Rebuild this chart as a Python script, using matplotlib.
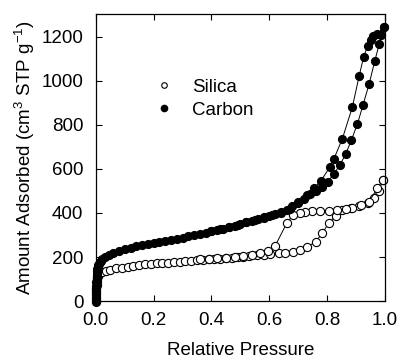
import numpy as np
import matplotlib
matplotlib.use("Agg")
import matplotlib.pyplot as plt

plt.rcParams['font.family'] = ['Liberation Sans', 'DejaVu Sans']
plt.rcParams['mathtext.fontset'] = 'custom'
plt.rcParams['mathtext.rm'] = 'Liberation Sans'

# Carbon isotherm, adsorption branch
carbon_ads_x = [0.001, 0.001, 0.001, 0.0012, 0.0015, 0.0018, 0.002, 0.0025, 0.003, 0.0035,
                0.004, 0.005, 0.006, 0.008, 0.01, 0.013, 0.017, 0.022, 0.03,
                0.045, 0.06, 0.08, 0.10, 0.12, 0.14, 0.16, 0.18, 0.20, 0.22,
                0.24, 0.26, 0.28, 0.30, 0.32, 0.34, 0.36, 0.38, 0.40, 0.42,
                0.44, 0.46, 0.48, 0.50, 0.52, 0.54, 0.56, 0.58, 0.60, 0.62,
                0.64, 0.66, 0.68, 0.70, 0.72, 0.74, 0.76, 0.783, 0.802, 0.823,
                0.844, 0.864, 0.884, 0.905, 0.924, 0.945, 0.965, 0.98, 0.986, 0.995]
carbon_ads_y = [-5, 10, 25, 40, 55, 70, 85, 100, 112, 124,
                135, 145, 153, 162, 170, 177, 184, 191, 199,
                210, 218, 228, 236, 243, 249, 254, 259, 264, 268,
                273, 278, 283, 288, 294, 299, 305, 311, 317, 323,
                329, 336, 343, 350, 357, 365, 372, 380, 388, 396,
                404, 414, 430, 446, 465, 485, 500, 520, 542, 577,
                618, 667, 732, 805, 891, 985, 1092, 1167, 1209, 1244]

# Carbon isotherm, desorption branch
carbon_des_x = [0.995, 0.974, 0.957, 0.95, 0.94, 0.926, 0.911, 0.887, 0.852, 0.823,
                0.81, 0.779, 0.754, 0.73, 0.70, 0.67, 0.64, 0.61, 0.58, 0.55,
                0.52, 0.49, 0.46, 0.43, 0.40]
carbon_des_y = [1244, 1214, 1205, 1185, 1159, 1108, 1024, 880, 735, 645,
                610, 547, 512, 480, 448, 420, 402, 390, 378, 368,
                357, 347, 337, 327, 318]

# Silica isotherm, adsorption branch
silica_ads_x = [0.001, 0.001, 0.0012, 0.0015, 0.002, 0.0025, 0.003, 0.004, 0.005, 0.007,
                0.01, 0.014, 0.02, 0.035,
                0.05, 0.07, 0.09, 0.11, 0.13, 0.15, 0.17, 0.19, 0.21, 0.23,
                0.25, 0.27, 0.29, 0.31, 0.33, 0.35, 0.37, 0.39, 0.41, 0.43,
                0.45, 0.47, 0.49, 0.51, 0.53, 0.556, 0.58, 0.603, 0.632, 0.655,
                0.682, 0.707, 0.731, 0.76, 0.783, 0.806, 0.829, 0.852, 0.882, 0.91,
                0.94, 0.963, 0.98, 0.992]
silica_ads_y = [0, 15, 30, 45, 60, 75, 88, 100, 108, 115,
                121, 126, 131, 137,
                142, 148, 152, 156, 160, 163, 166, 169, 171, 173,
                175, 177, 179, 181, 183, 185, 187, 189, 191, 193,
                195, 197, 199, 202, 205, 209, 210, 212, 216, 220,
                224, 232, 244, 270, 307, 356, 386, 414, 424, 433,
                444, 467, 501, 550]

# Silica isotherm, desorption branch
silica_des_x = [0.992, 0.974, 0.945, 0.916, 0.887, 0.864, 0.835, 0.806, 0.777, 0.748,
                0.725, 0.705, 0.682, 0.66, 0.62, 0.597, 0.568, 0.54, 0.51, 0.48,
                0.45, 0.42, 0.39, 0.36]
silica_des_y = [550, 512, 452, 436, 421, 417, 414, 411, 407, 407,
                403, 402, 391, 353, 250, 227, 216, 209, 204, 200,
                197, 194, 192, 190]

fig = plt.figure(figsize=(4.01, 3.64), dpi=100)
ax = fig.add_axes([0.239, 0.173, 0.721, 0.789])

line_kw = dict(color='black', lw=0.7, clip_on=False)
ax.plot(silica_ads_x, silica_ads_y, marker='o', ms=5.9, mfc='white', mec='black', mew=0.8, **line_kw)
ax.plot(silica_des_x, silica_des_y, marker='o', ms=5.9, mfc='white', mec='black', mew=0.8, **line_kw)
ax.plot(carbon_ads_x, carbon_ads_y, marker='o', ms=5.6, mfc='black', mec='black', **line_kw)
ax.plot(carbon_des_x, carbon_des_y, marker='o', ms=5.6, mfc='black', mec='black', **line_kw)

# legend entries (markers only)
h1, = ax.plot([], [], 'o', ms=4, mfc='white', mec='black', mew=0.8, label='Silica')
h2, = ax.plot([], [], 'o', ms=4.5, mfc='black', mec='black', label='Carbon')
ax.legend(handles=[h1, h2], loc='upper left', bbox_to_anchor=(0.17, 0.80), frameon=False,
          fontsize=13.5, handlelength=1.2, handletextpad=0.9, labelspacing=0.3,
          borderaxespad=0)

ax.set_xlim(0, 1.0)
ax.set_ylim(0, 1305)
ax.set_xticks([0.0, 0.2, 0.4, 0.6, 0.8, 1.0])
ax.set_yticks([0, 200, 400, 600, 800, 1000, 1200])
ax.set_xticklabels(['0.0', '0.2', '0.4', '0.6', '0.8', '1.0'])
ax.tick_params(direction='in', length=4, width=0.8, top=True, right=True, labelsize=13.5)
ax.tick_params(axis='x', pad=8)
ax.tick_params(axis='y', pad=9)
for s in ax.spines.values():
    s.set_linewidth(0.9)

ax.set_xlabel('Relative Pressure', fontsize=13.5, labelpad=9)
ax.set_ylabel('Amount Adsorbed (cm$^{3}$ STP g$^{-1}$)', fontsize=13.5, labelpad=3)

fig.savefig('out.png', dpi=100)
